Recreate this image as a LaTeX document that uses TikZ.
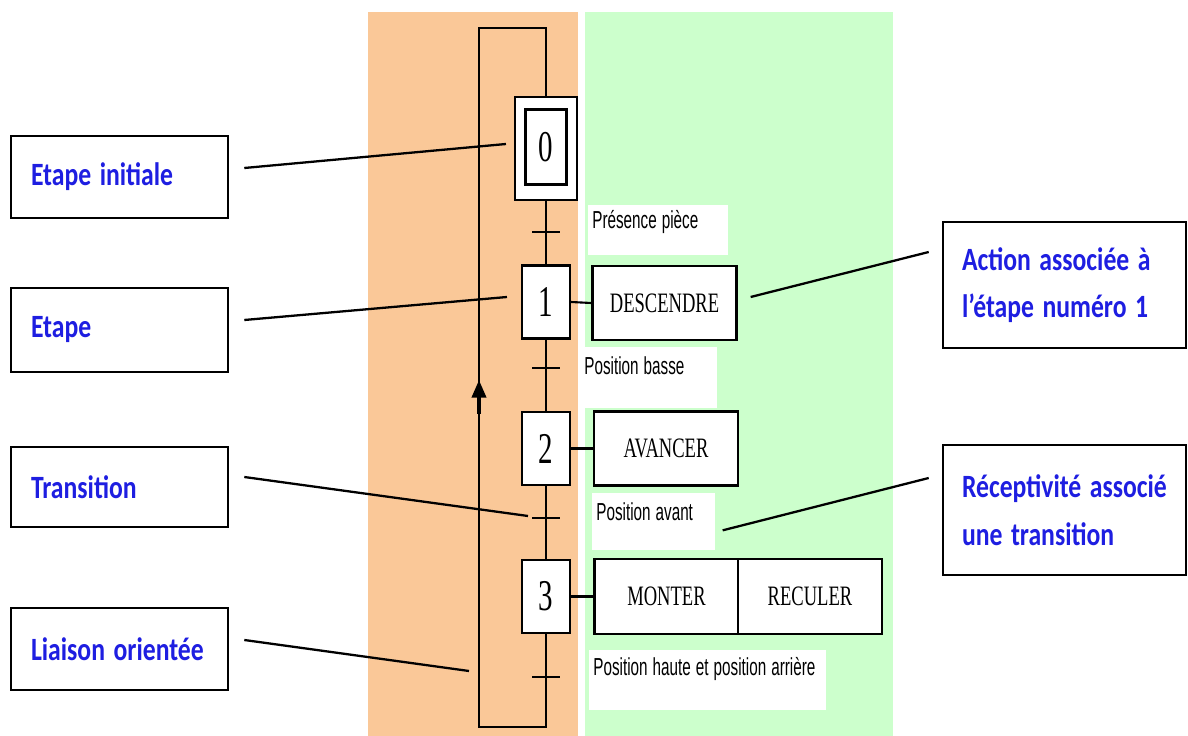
\documentclass[tikz,border=0pt]{standalone}
\usepackage{fontspec}
\usepackage{graphicx}
\usepackage{xcolor}
\usepackage{tikz}
\usetikzlibrary{arrows.meta}

\newfontfamily\notefont{Carlito}
\newfontfamily\actfont{Liberation Serif}
\newfontfamily\recfont{Liberation Sans}
% narrowed texts
\newcommand\nt[1]{\scalebox{0.79}[1]{#1}}
\newcommand\na[1]{\scalebox{0.66}[1]{#1}}
\newcommand\nr[1]{\scalebox{0.62}[1]{#1}}

\definecolor{bandorange}{RGB}{250,200,152}
\definecolor{bandgreen}{RGB}{204,255,204}
\definecolor{noteblue}{RGB}{30,30,225}

\begin{document}
\begin{tikzpicture}[
    x=0.02cm, y=-0.02cm,
    wire/.style={line width=1.2pt},
    lead/.style={line width=1.3pt},
    stepbox/.style={rectangle, draw, fill=white, line width=1.2pt, minimum width=0.96cm, minimum height=1.46cm, inner sep=0pt, font=\actfont\fontsize{25}{27}\selectfont},
    actbox/.style={rectangle, draw, fill=white, line width=1.3pt, minimum width=2.88cm, minimum height=1.48cm, inner sep=0pt, font=\actfont\fontsize{16}{18}\selectfont},
    recep/.style={rectangle, fill=white, anchor=north west, inner xsep=0.08cm, inner ysep=0pt, align=left, font=\recfont\fontsize{14}{16}\selectfont},
    notebox/.style={rectangle, draw, fill=white, line width=1.5pt, inner xsep=0.4cm, inner ysep=0pt, align=left, text=noteblue, font=\notefont\bfseries\fontsize{18.5}{27}\selectfont}
]
    \useasboundingbox (0,0) rectangle (1188,736);

    % Bands
    \fill[bandorange] (368,12) rectangle (578,736);
    \fill[bandgreen] (585,12) rectangle (893,736);

    % Loop and ticks
    \coordinate (loopTL) at (479,28);
    \coordinate (loopTR) at (546,28);
    \coordinate (loopBR) at (546,727);
    \coordinate (t0) at (546,232);
    \coordinate (t1) at (546,368);
    \coordinate (t2) at (546,518);
    \coordinate (t3) at (546,677);

    % Steps
    \node[stepbox, minimum width=1.24cm, minimum height=2.06cm] (s0out) at (546,148.5) {};
    \node[stepbox, minimum width=0.82cm, minimum height=1.5cm] (step0) at (546,147) {\na{0}};
    \node[stepbox] (step1) at (546,302) {\na{1}};
    \node[stepbox] (step2) at (546,448.5) {\na{2}};
    \node[stepbox] (step3) at (546,596.5) {\na{3}};

    \draw[wire] (step3.south) -- (loopBR) -| (loopTL) -- (loopTR) -- (s0out.north);
    \draw[wire] (s0out.south) -- (step1.north);
    \draw[wire] (step1.south) -- (step2.north);
    \draw[wire] (step2.south) -- (step3.north);
    \foreach \t in {t0,t1,t2,t3}
        \draw[wire] ([xshift=-0.28cm]\t) -- ([xshift=0.28cm]\t);

    \coordinate (arrS) at (479,414);
    \coordinate (arrE) at (479,380);
    \draw[line width=2pt, -{Triangle[length=10pt,width=8pt]}] (arrS) -- (arrE);

    % Actions
    \node[actbox] (act1) at (664.5,303) {\na{DESCENDRE}};
    \node[actbox] (act2) at (666,448.5) {\na{AVANCER}};
    \node[actbox, minimum height=1.5cm] (act3a) at (666.5,596.5) {\na{MONTER}};
    \node[actbox, minimum height=1.5cm] (act3b) at (810,596.5) {\na{RECULER}};
    \draw[wire] (step1.east) -- (act1.west);
    \draw[wire] (step2.east) -- (act2.west);
    \draw[wire] (step3.east) -- (act3a.west);

    % Receptivities
    \node[recep, text width=2.64cm, text height=0.46cm, text depth=0.54cm] (rec0) at (588,205) {\nr{Présence pièce}};
    \node[recep, text width=2.58cm, text height=0.54cm, text depth=0.68cm] (rec1) at (580,347) {\nr{Position basse}};
    \node[recep, text width=2.30cm, text height=0.54cm, text depth=0.60cm] (rec2) at (592,493) {\nr{Position avant}};
    \node[recep, text width=4.58cm, text height=0.50cm, text depth=0.70cm] (rec3) at (589,650) {\nr{Position haute et position arrière}};

    % Notes
    \node[notebox, text width=3.54cm, minimum height=1.64cm] (nInit) at (119.5,177) {\nt{Etape initiale}};
    \node[notebox, text width=3.54cm, minimum height=1.68cm] (nEtape) at (119.5,330) {\nt{Etape}};
    \node[notebox, text width=3.54cm, minimum height=1.60cm] (nTrans) at (119.5,487) {\nt{Transition}};
    \node[notebox, text width=3.54cm, minimum height=1.64cm] (nLiai) at (119.5,649) {\nt{Liaison orientée}};
    \node[notebox, text width=4.10cm, inner xsep=0.38cm, minimum height=2.52cm] (nAction) at (1064.5,285) {\nt{Action associée à}\\\nt{l’étape numéro 1}};
    \node[notebox, text width=4.10cm, inner xsep=0.38cm, minimum height=2.60cm] (nRecep) at (1064.5,510) {\nt{Réceptivité associé}\\\nt{une transition}};

    % Leader lines
    \coordinate (liai) at (469,671);
    \draw[lead] ([xshift=0.3cm,yshift=0.18cm]nInit.east) -- ([xshift=-0.16cm,yshift=0.09cm]s0out.west);
    \draw[lead] ([xshift=0.3cm,yshift=0.2cm]nEtape.east) -- ([xshift=-0.28cm,yshift=0.1cm]step1.west);
    \draw[lead] ([xshift=0.3cm,yshift=0.2cm]nTrans.east) -- ([xshift=-0.36cm,yshift=0.04cm]t2);
    \draw[lead] ([xshift=0.3cm,yshift=0.18cm]nLiai.east) -- (liai);
    \draw[lead] ([xshift=0.26cm,yshift=0.12cm]act1.east) -- ([xshift=-0.26cm,yshift=0.66cm]nAction.west);
    \draw[lead] ([xshift=0.14cm,yshift=-0.17cm]rec2.east) -- ([xshift=-0.26cm,yshift=0.64cm]nRecep.west);
\end{tikzpicture}
\end{document}
